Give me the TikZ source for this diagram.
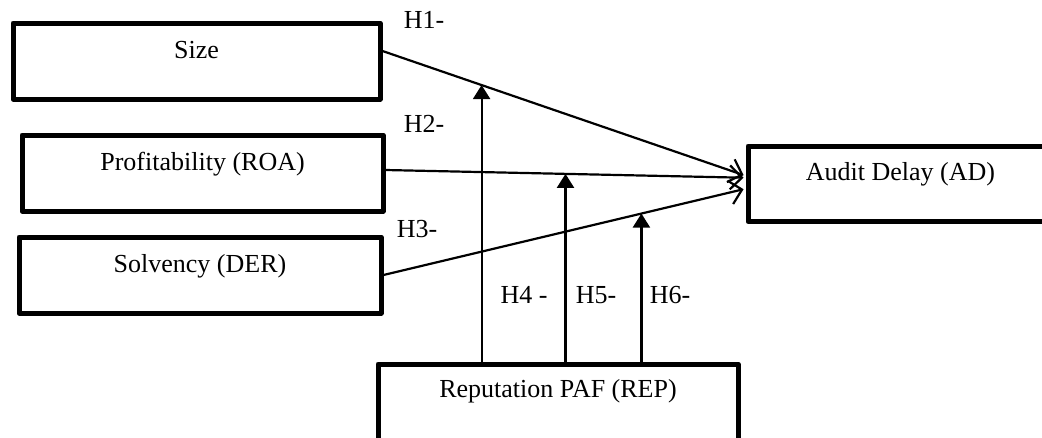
\documentclass[tikz,border=0pt]{standalone}
\usepackage{fontspec}
\setmainfont{Liberation Serif}
\usetikzlibrary{arrows.meta}
\tikzset{varbox/.style={draw,line width=5pt,line join=round,inner sep=0pt,anchor=north west,text height=35pt,text depth=41pt},
         hyp/.style={line width=2.2pt,-{Straight Barb[length=12pt,width=24pt]},shorten >=2pt},
         moder/.style={line width=2.2pt,-{Triangle[length=14pt,width=17pt]}}}

\begin{document}
\begin{tikzpicture}[x=1pt,y=-1pt,font=\fontsize{26}{30}\selectfont]
\useasboundingbox (0,0) rectangle (1042,437);
\node[varbox,minimum width=367pt] (sz)  at (10.5,20.5)  {Size};
\node[varbox,minimum width=361pt] (roa) at (19.5,132.5) {Profitability (ROA)};
\node[varbox,minimum width=362pt] (der) at (16.5,234.5) {Solvency (DER)};
\node[varbox,minimum width=305pt,text height=34.5pt] (ad)  at (745.5,143.5) {Audit Delay (AD)};
\node[varbox,minimum width=360pt,text height=33.5pt,text depth=80pt] (rep) at (375.5,361.5) {Reputation PAF (REP)};
% direct effects
\draw[hyp] ([yshift=10pt]sz.east) -- ([yshift=8pt]ad.west) coordinate[pos=0.273] (m1);
\draw[hyp] ([yshift=3pt]roa.east) -- ([yshift=6pt]ad.west) coordinate[pos=0.5] (m2);
\draw[hyp] (der.east) -- ([yshift=-5pt]ad.west) coordinate[pos=0.7125] (m3);
% moderation
\draw[moder] (rep.north -| m1) -- (m1);
\draw[moder] (rep.north -| m2) -- (m2);
\draw[moder] (rep.north -| m3) -- (m3);
\node (h1) at (424,20)  {H1-};
\node (h2) at (424,124) {H2-};
\node (h3) at (417,229) {H3-};
\node (h4) at (524,295) {H4 -};
\node (h5) at (596,295) {H5-};
\node (h6) at (670,295) {H6-};
\end{tikzpicture}
\end{document}
